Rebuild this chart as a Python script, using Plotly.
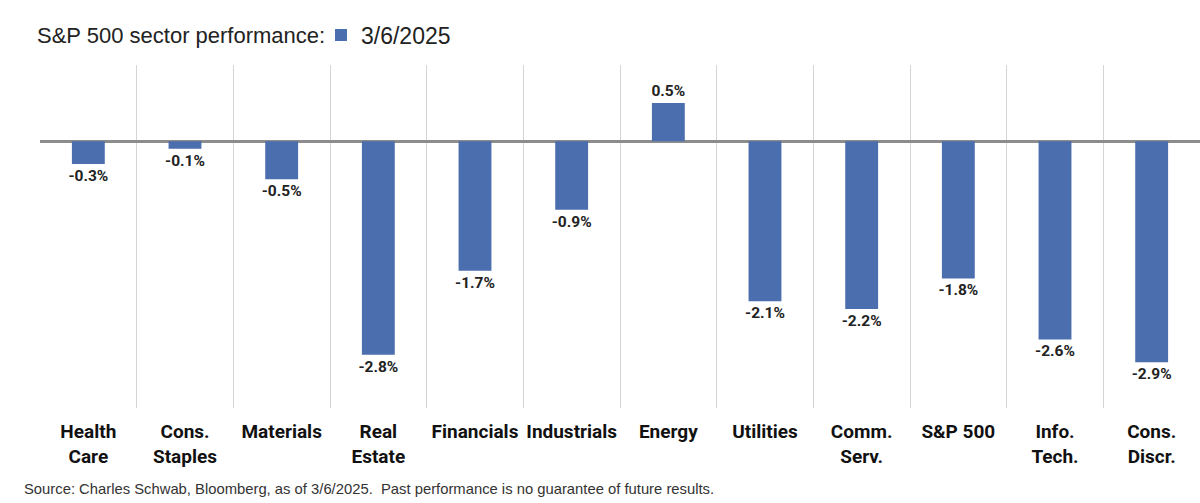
import plotly.graph_objects as go

categories = ["Health<br>Care", "Cons.<br>Staples", "Materials", "Real<br>Estate", "Financials",
              "Industrials", "Energy", "Utilities", "Comm.<br>Serv.", "S&P 500",
              "Info.<br>Tech.", "Cons.<br>Discr."]
values = [-0.3, -0.1, -0.5, -2.8, -1.7, -0.9, 0.5, -2.1, -2.2, -1.8, -2.6, -2.9]
labels = ["-0.3%", "-0.1%", "-0.5%", "-2.8%", "-1.7%", "-0.9%", "0.5%", "-2.1%",
          "-2.2%", "-1.8%", "-2.6%", "-2.9%"]
series_name = "3/6/2025"

W, H = 1200, 503
fig = go.Figure(go.Bar(
    x=categories, y=values, name=series_name,
    marker=dict(color="#4a6eae", line=dict(width=0)),
    width=0.34,
    text=labels, textposition="outside", cliponaxis=False, constraintext="none",
    textfont=dict(family="Roboto", size=15.5, color="#222222", weight="bold"),
    showlegend=True,
))

fig.update_layout(
    width=W, height=H,
    paper_bgcolor="white", plot_bgcolor="white",
    margin=dict(l=40, r=0, t=65, b=95, autoexpand=False),
    font=dict(family="Liberation Sans", color="#222222"),
    title=dict(text="S&P 500 sector performance:", x=37 / W, xanchor="left",
               xref="container", yref="container", y=1 - 35 / H, yanchor="middle",
               pad=dict(l=0, r=0, t=0, b=0),
               font=dict(family="Liberation Sans", size=22, color="#222222")),
    legend=dict(orientation="h", xref="container", yref="container",
                x=321 / W, xanchor="left", y=1 - 35 / H, yanchor="middle",
                font=dict(family="Liberation Sans", size=23, color="#222222"),
                bgcolor="rgba(0,0,0,0)"),
    bargap=0.66,
    xaxis=dict(tickson="boundaries", showgrid=True, gridcolor="#d4d4d4", gridwidth=1,
               ticks="", showline=False, zeroline=False, tickangle=0,
               tickfont=dict(family="Roboto", size=19, color="#111111", weight="bold"),
               ticklabelstandoff=10),
    yaxis=dict(range=[-3.5, 1.0], showgrid=False, showticklabels=False, ticks="",
               zeroline=True, zerolinecolor="#8c8c8c", zerolinewidth=2.5, showline=False),
    annotations=[dict(text="Source: Charles Schwab, Bloomberg, as of 3/6/2025.  Past performance is no guarantee of future results.",
                      xref="paper", yref="paper", x=-18 / 1160, y=0, yshift=-81,
                      xanchor="left", yanchor="middle", showarrow=False,
                      font=dict(family="Liberation Sans", size=14.8, color="#333333"))],
)

fig.write_html("out.html", post_script="document.body.style.margin='0';",
               config={"displayModeBar": False})
